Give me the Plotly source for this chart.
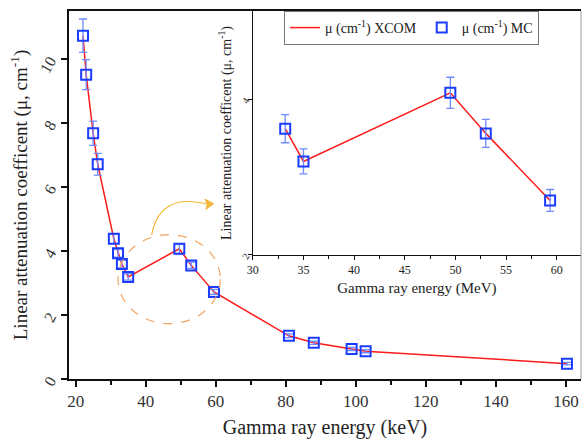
import plotly.graph_objects as go

# ---- data ----
energy_kev = [22.1, 23.0, 25.0, 26.3, 30.9, 32.1, 33.2, 35.0, 49.6, 53.0, 59.5, 80.9, 88.0, 98.8, 102.8, 160.3]
mu_xcom = [10.73, 9.51, 7.68, 6.71, 4.38, 3.93, 3.59, 3.19, 4.07, 3.55, 2.72, 1.35, 1.13, 0.94, 0.87, 0.48]
mu_mc = [10.73, 9.51, 7.68, 6.71, 4.38, 3.93, 3.59, 3.19, 4.07, 3.55, 2.72, 1.35, 1.13, 0.94, 0.87, 0.48]
mu_mc_err = [0.52, 0.47, 0.38, 0.34, 0.15, 0.12, 0.12, 0.10, 0.15, 0.10, 0.08, 0.06, 0.05, 0.05, 0.05, 0.04]

inset_energy = [33.2, 35.0, 49.5, 53.0, 59.35]
inset_xcom = [3.62, 3.20, 4.08, 3.56, 2.70]
inset_mc = [3.62, 3.20, 4.08, 3.56, 2.70]
inset_err = [0.18, 0.16, 0.20, 0.18, 0.14]

main_xticks = [20, 40, 60, 80, 100, 120, 140, 160]
main_yticks = [0, 2, 4, 6, 8, 10]
inset_xticks = [30, 35, 40, 45, 50, 55, 60]
inset_yticks = [2, 4]

FONT = "Liberation Serif"
RED = "#ff1a1a"
BLUE = "#1a3cff"
ERR = "#6f8cff"
ORANGE = "#f4a460"
ARROW = "#f5b63a"

fig = go.Figure()

# main
fig.add_trace(go.Scatter(x=energy_kev, y=mu_xcom, mode="lines",
                         line=dict(color=RED, width=1.5), showlegend=False,
                         xaxis="x", yaxis="y"))
fig.add_trace(go.Scatter(x=energy_kev, y=mu_mc, mode="markers",
                         marker=dict(symbol="square-open", size=10, color=BLUE,
                                     line=dict(width=2, color=BLUE)),
                         error_y=dict(type="data", array=mu_mc_err, color=ERR,
                                      thickness=1.3, width=4),
                         showlegend=False, xaxis="x", yaxis="y"))

# inset
fig.add_trace(go.Scatter(x=inset_energy, y=inset_xcom, mode="lines",
                         line=dict(color=RED, width=1.5),
                         name="μ (cm<sup>-1</sup>) XCOM",
                         xaxis="x2", yaxis="y2"))
fig.add_trace(go.Scatter(x=inset_energy, y=inset_mc, mode="markers",
                         marker=dict(symbol="square-open", size=10, color=BLUE,
                                     line=dict(width=2, color=BLUE)),
                         error_y=dict(type="data", array=inset_err, color=ERR,
                                      thickness=1.3, width=4),
                         name="μ (cm<sup>-1</sup>) MC",
                         xaxis="x2", yaxis="y2"))

fig.update_layout(
    width=582, height=439,
    margin=dict(l=69, r=1, t=11, b=60),
    paper_bgcolor="white", plot_bgcolor="white",
    font=dict(family=FONT, color="#222222"),
    xaxis=dict(domain=[0, 1], range=[18.1, 164.3],
               tickvals=main_xticks, ticks="outside", ticklen=6, tickwidth=1.5,
               tickcolor="#111", showgrid=False, zeroline=False,
               showline=True, linecolor="#111", linewidth=2, mirror=True,
               minor=dict(tickvals=[30, 50, 70, 90, 110, 130, 150], ticks="outside",
                          ticklen=4, tickcolor="#111"),
               tickfont=dict(size=17, family=FONT, color="#333"),
               title=dict(text="Gamma ray energy (keV)", font=dict(size=20, family=FONT, color="#222"),
                          standoff=10)),
    yaxis=dict(domain=[0, 1], range=[0, 11.5],
               tickvals=main_yticks, ticks="outside", ticklen=6, tickwidth=1.5,
               tickcolor="#111", tickangle=-60, showgrid=False, zeroline=False,
               showline=True, linecolor="#111", linewidth=2,
               ticklabelstandoff=8,
               tickfont=dict(size=16, family=FONT, color="#333"),
               title=dict(text="Linear attenuation coefficent (μ, cm<sup>-1</sup>)",
                          font=dict(size=19, family=FONT, color="#222"), standoff=4)),
    xaxis2=dict(domain=[0.359, 1], anchor="y2", range=[30, 62.4],
                tickvals=inset_xticks, ticks="outside", ticklen=4, tickwidth=1,
                tickcolor="#111", showgrid=False, zeroline=False,
                showline=True, linecolor="#111", linewidth=1.2,
                minor=dict(tickvals=[32.5, 37.5, 42.5, 47.5, 52.5, 57.5, 62.5], ticks="outside",
                           ticklen=3, tickcolor="#111"),
                tickfont=dict(size=12, family=FONT, color="#222"),
                title=dict(text="Gamma ray energy (MeV)", font=dict(size=15, family=FONT, color="#222"),
                           standoff=6)),
    yaxis2=dict(domain=[0.337, 1], anchor="x2", range=[2, 5.13],
                tickvals=inset_yticks, ticks="outside", ticklen=4, tickwidth=1,
                tickcolor="#111", tickangle=-60, showgrid=False, zeroline=False,
                showline=True, linecolor="#111", linewidth=1.2,
                tickfont=dict(size=10, family=FONT, color="#222"),
                title=dict(text="Linear attenuation coefficent (μ, cm<sup>-1</sup>)",
                           font=dict(size=14, family=FONT, color="#222"), standoff=4)),
    legend=dict(orientation="h", x=0.42, y=1.0, xanchor="left", yanchor="top",
                bgcolor="white", bordercolor="#777", borderwidth=1,
                font=dict(size=14, family=FONT, color="#222"),
                itemwidth=30, entrywidth=0),
    showlegend=True,
)

# right frame line (thin, gray)
fig.add_shape(type="line", xref="paper", yref="paper", x0=1, x1=1, y0=0, y1=1,
              line=dict(color="#999", width=1))

# dashed ellipse around the peak region
fig.add_shape(type="circle", xref="x", yref="y", x0=32.1, x1=61.3, y0=1.73, y1=4.51,
              line=dict(color=ORANGE, width=1.2, dash="dash"))

# curved arrow from the ellipse to the inset
fig.add_shape(type="path", xref="x", yref="y",
              path="M 41.7,4.5 Q 44.0,5.85 57.6,5.46",
              line=dict(color=ARROW, width=1.2))
fig.add_shape(type="path", xref="x", yref="y",
              path="M 59.4,5.48 L 56.9,5.62 L 57.6,5.46 L 57.2,5.30 Z",
              line=dict(color=ARROW, width=1), fillcolor=ARROW)

fig.write_html("out.html")
